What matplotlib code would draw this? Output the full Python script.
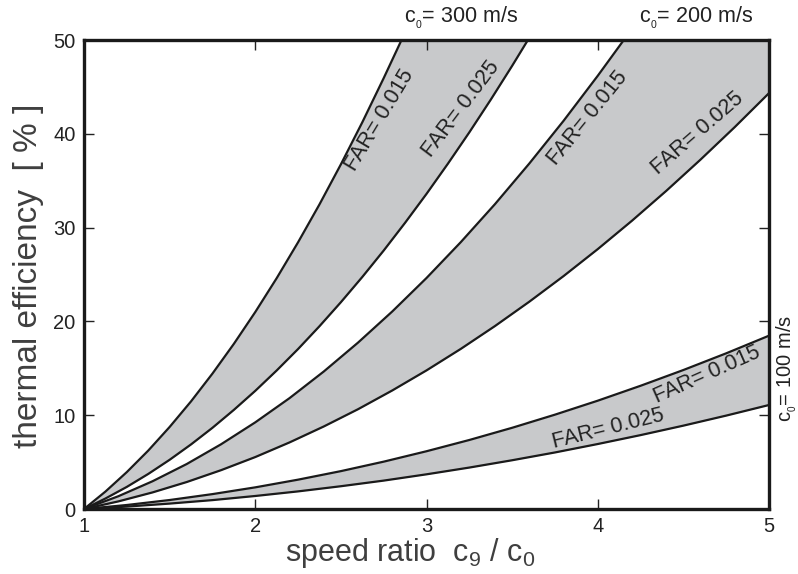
import numpy as np
import matplotlib
matplotlib.use("Agg")
import matplotlib.pyplot as plt

plt.rcParams["font.family"] = ["Liberation Sans", "DejaVu Sans"]
plt.rcParams["mathtext.fontset"] = "custom"
plt.rcParams["mathtext.rm"] = "Liberation Sans"
plt.rcParams["mathtext.it"] = "Liberation Sans"

# c0 = 300 m/s: thermal efficiency [%] vs speed ratio c9/c0
r300_f015 = [1.0, 1.125, 1.25, 1.375, 1.5, 1.625, 1.75, 1.875, 2.0, 2.125,
             2.25, 2.375, 2.5, 2.625, 2.75, 2.854]
eff300_f015 = [0.0, 1.86, 3.94, 6.23, 8.75, 11.48, 14.44, 17.61, 21.0, 24.61,
               28.44, 32.48, 36.75, 41.23, 45.94, 50.0]
r300_f025 = [1.0, 1.125, 1.25, 1.375, 1.5, 1.625, 1.75, 1.875, 2.0, 2.125,
             2.25, 2.375, 2.5, 2.625, 2.75, 2.875, 3.0, 3.125, 3.25, 3.375,
             3.5, 3.592]
eff300_f025 = [0.0, 1.12, 2.36, 3.74, 5.25, 6.89, 8.66, 10.57, 12.6, 14.77,
               17.06, 19.49, 22.05, 24.74, 27.56, 30.52, 33.6, 36.82, 40.16,
               43.64, 47.25, 50.0]

# c0 = 200 m/s
r200_f015 = [1.0, 1.2, 1.4, 1.6, 1.8, 2.0, 2.2, 2.4, 2.6, 2.8, 3.0, 3.2, 3.4,
             3.6, 3.8, 4.0, 4.152]
eff200_f015 = [0.0, 1.36, 2.96, 4.80, 6.90, 9.24, 11.82, 14.66, 17.74, 21.06,
               24.63, 28.45, 32.51, 36.83, 41.38, 46.19, 50.0]
r200_f025 = [1.0, 1.2, 1.4, 1.6, 1.8, 2.0, 2.2, 2.4, 2.6, 2.8, 3.0, 3.2, 3.4,
             3.6, 3.8, 4.0, 4.2, 4.4, 4.6, 4.8, 5.0]
eff200_f025 = [0.0, 0.81, 1.77, 2.88, 4.14, 5.54, 7.10, 8.80, 10.64, 12.64,
               14.78, 17.07, 19.51, 22.10, 24.83, 27.71, 30.74, 33.92, 37.25,
               40.72, 44.34]

# c0 = 100 m/s
r100 = [1.0, 1.25, 1.5, 1.75, 2.0, 2.25, 2.5, 2.75, 3.0, 3.25, 3.5,
        3.75, 4.0, 4.25, 4.5, 4.75, 5.0]
eff100_f015 = [0.0, 0.43, 0.96, 1.59, 2.31, 3.13, 4.04, 5.05, 6.16, 7.36,
               8.66, 10.06, 11.55, 13.14, 14.82, 16.60, 18.48]
eff100_f025 = [0.0, 0.26, 0.58, 0.95, 1.39, 1.88, 2.43, 3.03, 3.70, 4.42,
               5.20, 6.03, 6.93, 7.88, 8.89, 9.96, 11.09]

x_ticks = [1, 2, 3, 4, 5]
y_ticks = [0, 10, 20, 30, 40, 50]

band_color = "#c8c9cb"
line_color = "#1a1a1a"
text_color = "#222222"
label_color = "#3f3f3f"

fig = plt.figure(figsize=(7.98, 5.74), dpi=100)
ax = fig.add_axes([0.1053, 0.1132, 0.8584, 0.8171])

bands = [
    (r300_f015, eff300_f015, r300_f025, eff300_f025),
    (r200_f015, eff200_f015, r200_f025, eff200_f025),
    (r100, eff100_f015, r100, eff100_f025),
]
for xu, yu, xl, yl in bands:
    xc = np.union1d(xu, xl)
    upper = np.interp(xc, xu, yu)
    lower = np.interp(xc, xl, yl)
    ax.fill_between(xc, lower, upper, color=band_color, lw=0, zorder=1)
    ax.plot(xu, yu, color=line_color, lw=1.6, zorder=2, solid_joinstyle="round")
    ax.plot(xl, yl, color=line_color, lw=1.6, zorder=2, solid_joinstyle="round")

ax.set_xlim(1, 5)
ax.set_ylim(0, 50)
ax.set_xticks(x_ticks)
ax.set_yticks(y_ticks)
ax.set_xticklabels([str(v) for v in x_ticks])
ax.set_yticklabels([str(v) for v in y_ticks])
ax.tick_params(direction="in", length=7.5, width=1.0, top=True, right=True,
               labelsize=14.5, colors=text_color, pad=6)
for s in ax.spines.values():
    s.set_linewidth(2.4)
    s.set_color(line_color)
    s.set_zorder(3)

ax.set_xlabel("speed ratio  c$_9$ / c$_0$", fontsize=22, color=label_color)
ax.xaxis.set_label_coords(0.476, -0.058)
ax.set_ylabel("thermal efficiency  [ % ]", fontsize=24, color=label_color)
ax.yaxis.set_label_coords(-0.059, 0.497)

# curve labels
far_labels = [
    (2.728, 41.5, 59, "FAR= 0.015"),
    (3.20, 42.7, 53, "FAR= 0.025"),
    (3.94, 41.7, 51, "FAR= 0.015"),
    (4.585, 40.1, 41, "FAR= 0.025"),
    (4.64, 14.3, 24, "FAR= 0.015"),
    (4.06, 8.6, 14, "FAR= 0.025"),
]
for x, y, rot, s in far_labels:
    ax.text(x, y, s, rotation=rot, rotation_mode="anchor", ha="center",
            va="center", fontsize=15.5, color=text_color, zorder=4)

# inlet speed labels
ax.text(3.20, 52.3, "c$_{_0}$= 300 m/s", ha="center", va="center",
        fontsize=15.5, color=text_color, clip_on=False)
ax.text(4.573, 52.3, "c$_{_0}$= 200 m/s", ha="center", va="center",
        fontsize=15.5, color=text_color, clip_on=False)
ax.text(5.104, 15.0, "c$_{_0}$= 100 m/s", ha="center", va="center",
        rotation=90, fontsize=14.5, color=text_color, clip_on=False)

fig.savefig("out.png", dpi=100)
